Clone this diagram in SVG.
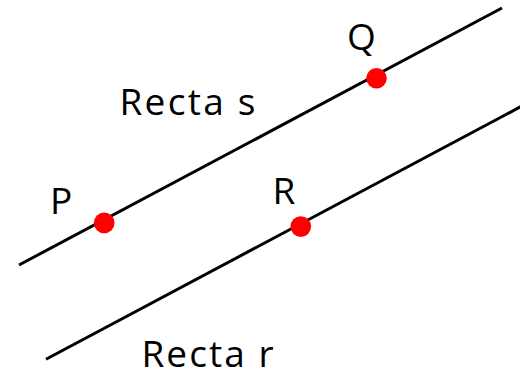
<svg xmlns="http://www.w3.org/2000/svg" width="520" height="372" viewBox="0 0 520 372">
<style>
.ln{stroke:#000;stroke-width:3;fill:none}
.pt{fill:#ff0000}
text{font-family:"Open Sans","Noto Sans","Liberation Sans",sans-serif;font-size:37px;fill:#000}
</style>
<rect width="520" height="372" fill="#fff"/>
<g id="connectors">
<line id="recta-s" class="ln" x1="19" y1="265" x2="502" y2="8"/>
<line id="recta-r" class="ln" x1="46" y1="359.3" x2="522" y2="106"/>
</g>
<g id="label-s"><text x="119.5" y="114.5" textLength="136" lengthAdjust="spacing">Recta s</text></g>
<g id="label-r"><text x="141.5" y="367" textLength="132" lengthAdjust="spacing">Recta r</text></g>
<g id="Q"><circle class="pt" cx="376.5" cy="78.2" r="10.3"/><text x="347" y="50">Q</text></g>
<g id="P"><circle class="pt" cx="104.2" cy="222.9" r="10.3"/><text x="50" y="214">P</text></g>
<g id="R"><circle class="pt" cx="300.8" cy="226.6" r="10.3"/><text x="272.5" y="203.5">R</text></g>
</svg>
